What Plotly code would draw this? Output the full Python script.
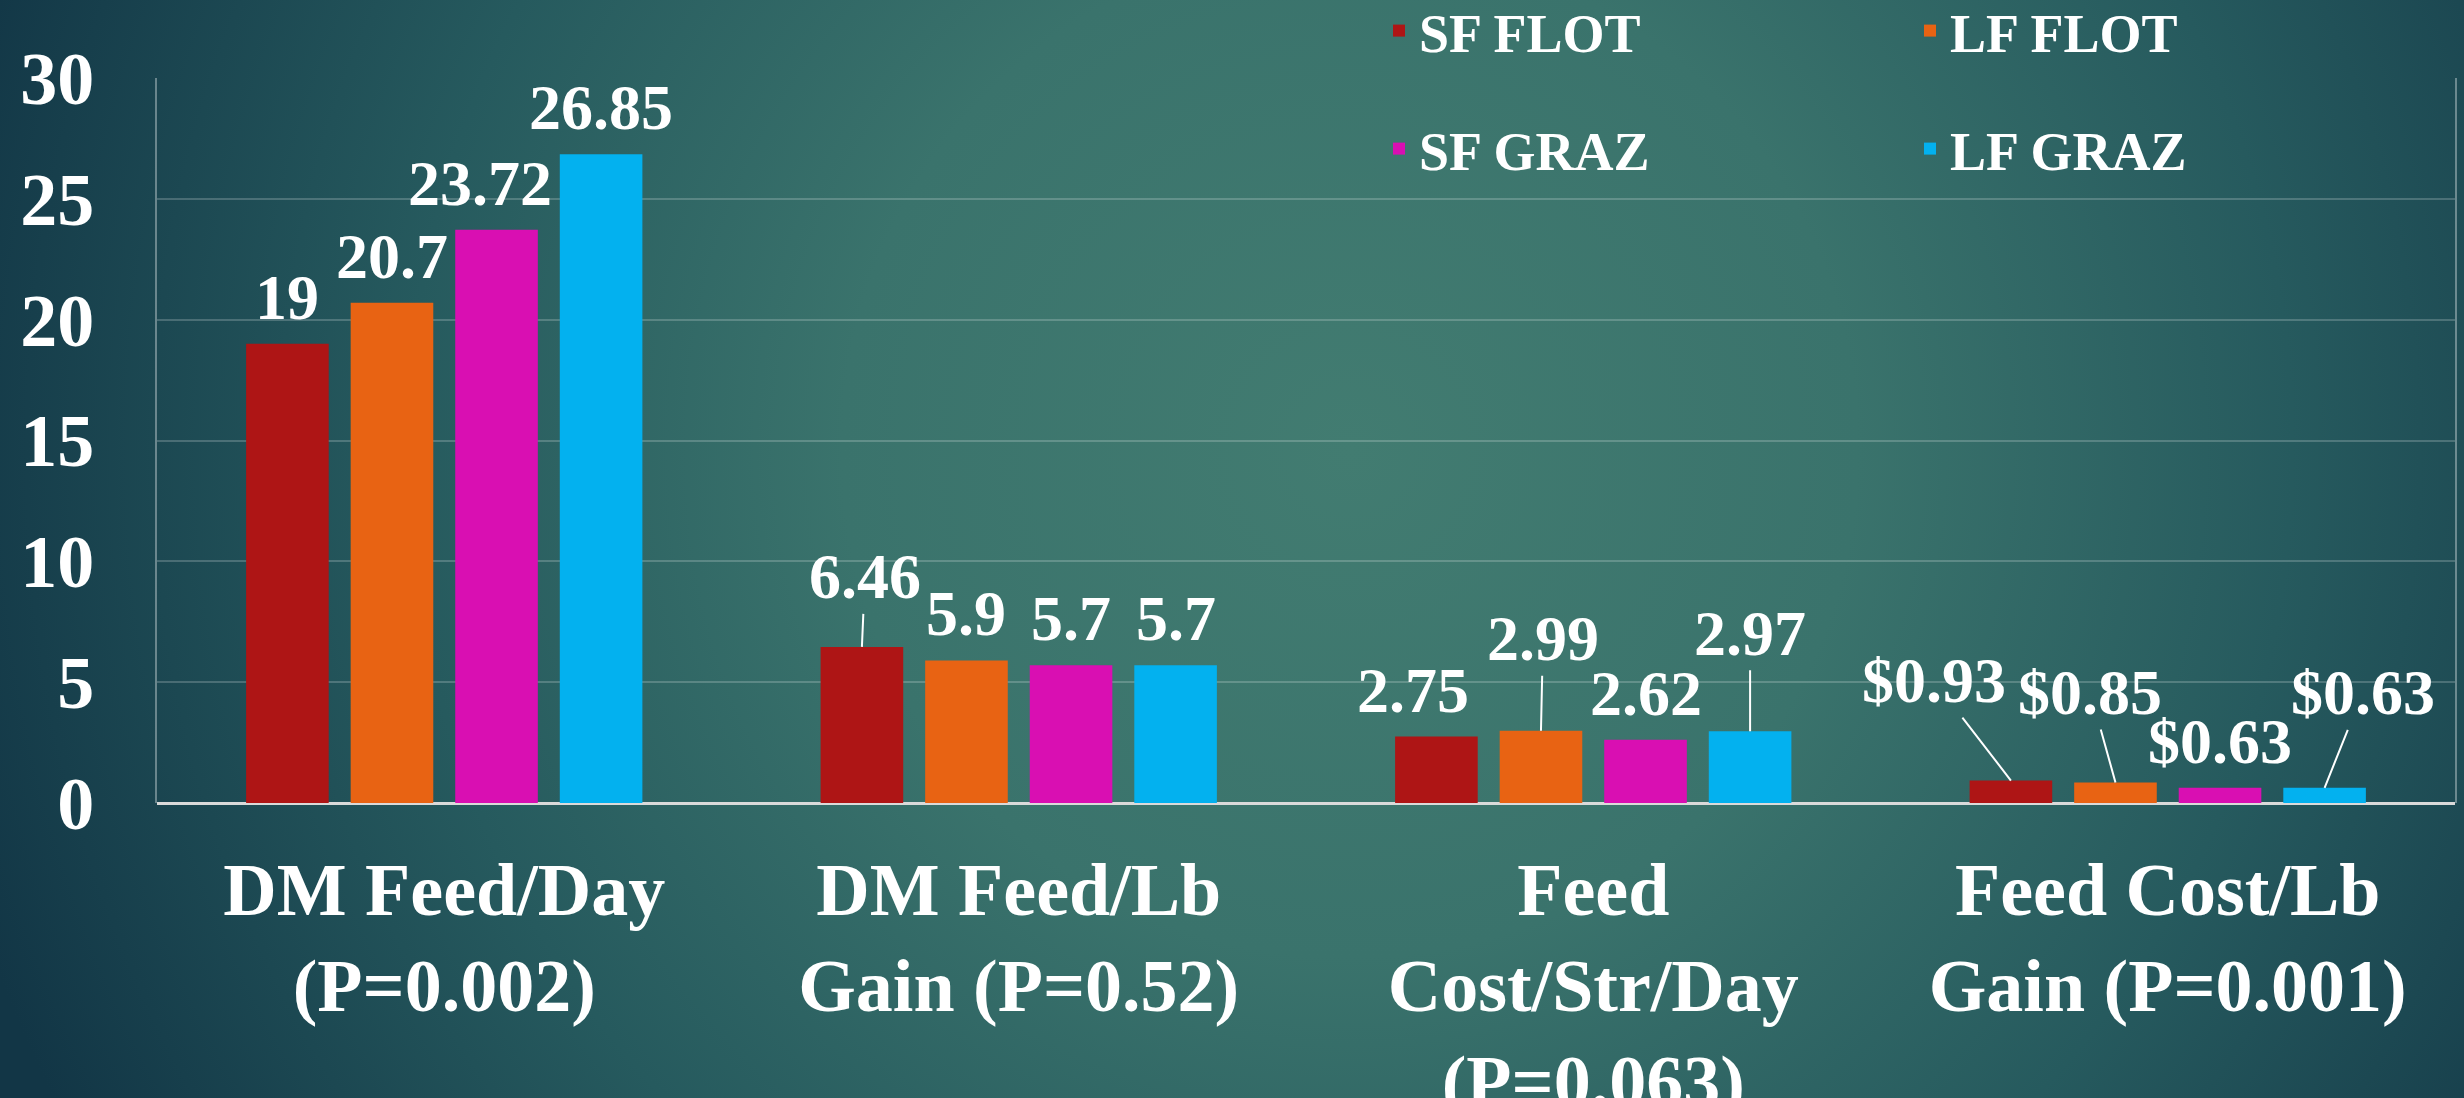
import base64
import plotly.graph_objects as go

# ---------------- data ----------------
categories = [
    "DM Feed/Day<br>(P=0.002)",
    "DM Feed/Lb<br>Gain (P=0.52)",
    "Feed<br>Cost/Str/Day<br>(P=0.063)",
    "Feed Cost/Lb<br>Gain (P=0.001)",
]
series_names = ["SF FLOT", "LF FLOT", "SF GRAZ", "LF GRAZ"]
sf_flot = [19, 6.46, 2.75, 0.93]
lf_flot = [20.7, 5.9, 2.99, 0.85]
sf_graz = [23.72, 5.7, 2.62, 0.63]
lf_graz = [26.85, 5.7, 2.97, 0.63]
series_values = [sf_flot, lf_flot, sf_graz, lf_graz]
y_ticks = [0, 5, 10, 15, 20, 25, 30]

# ---------------- styles ----------------
colors = ["#AE1515", "#E86313", "#D90FB2", "#03B1EF"]
FONT = "Liberation Serif"
W, H = 2464, 1098
BARGAP = 0.272
BARGROUPGAP = 0.21

# label placement tweaks: (series idx, category idx) -> dict
label_style = {
    (2, 0): dict(xshift=-17),
    (0, 1): dict(arrow=True, ax=3, ay=-70),
    (0, 2): dict(xshift=-23),
    (1, 2): dict(arrow=True, ax=2, ay=-92),
    (3, 2): dict(arrow=True, ax=0, ay=-98),
    (0, 3): dict(arrow=True, ax=-77, ay=-100),
    (1, 3): dict(arrow=True, ax=-25, ay=-90),
    (3, 3): dict(arrow=True, ax=38, ay=-95),
}

fig = go.Figure()
for i, (name, vals) in enumerate(zip(series_names, series_values)):
    fig.add_trace(go.Bar(
        name=name, x=categories, y=vals,
        marker=dict(color=colors[i], line=dict(width=0)),
        legend="legend" if i < 2 else "legend2",
        hoverinfo="skip",
    ))

# value labels
slot = (1 - BARGAP) / len(series_names)
annotations = []
for i, vals in enumerate(series_values):
    for j, v in enumerate(vals):
        txt = f"${v:.2f}" if j == 3 else f"{v:g}"
        xpos = j + (i - (len(series_names) - 1) / 2) * slot
        st = label_style.get((i, j), {})
        base = dict(x=xpos, y=v, xref="x", yref="y", text=txt,
                    font=dict(family=FONT, size=64, color="white", weight="bold"))
        if st.get("arrow"):
            base.update(showarrow=True, arrowhead=0, arrowwidth=2,
                        arrowcolor="white", ax=st["ax"], ay=st["ay"])
        else:
            base.update(showarrow=False, yanchor="bottom", yshift=9,
                        xshift=st.get("xshift", 0))
        annotations.append(base)

# background gradient (decorative)
svg = (
    f"<svg xmlns='http://www.w3.org/2000/svg' width='{W}' height='{H}' "
    f"viewBox='0 0 {W} {H}' preserveAspectRatio='none'>"
    "<defs><radialGradient id='g' gradientUnits='userSpaceOnUse' cx='1350' cy='450' r='1450'>"
    "<stop offset='0' stop-color='#427C71'/>"
    "<stop offset='0.35' stop-color='#3A736C'/>"
    "<stop offset='0.65' stop-color='#265A5E'/>"
    "<stop offset='1' stop-color='#123646'/>"
    "</radialGradient></defs>"
    f"<rect width='{W}' height='{H}' fill='url(#g)'/></svg>"
)
bg_src = "data:image/svg+xml;base64," + base64.b64encode(svg.encode()).decode()

legend_common = dict(
    orientation="h", entrywidth=486, entrywidthmode="pixels",
    font=dict(family=FONT, size=54, color="white", weight="bold"),
    bgcolor="rgba(0,0,0,0)", xanchor="left", yanchor="middle",
    itemclick=False, itemdoubleclick=False,
)

fig.update_layout(
    width=W, height=H,
    margin=dict(l=0, r=0, t=0, b=0, autoexpand=False),
    paper_bgcolor="#1F4F5A",
    plot_bgcolor="rgba(0,0,0,0)",
    barmode="group", bargap=BARGAP, bargroupgap=BARGROUPGAP,
    showlegend=True,
    legend=dict(x=1379 / W, y=1 - 31 / H, **legend_common),
    legend2=dict(x=1379 / W, y=1 - 149 / H, **legend_common),
    images=[dict(source=bg_src, xref="paper", yref="paper", x=0, y=1,
                 sizex=1, sizey=1, sizing="stretch", layer="below",
                 xanchor="left", yanchor="top")],
    annotations=annotations,
    xaxis=dict(
        domain=[157 / W, 2455 / W],
        showgrid=False, showline=False, zeroline=False,
        ticks="", ticklabelstandoff=37,
        tickfont=dict(family=FONT, size=74, color="white", weight="bold"),
        automargin=False,
    ),
    yaxis=dict(
        domain=[(H - 803) / H, (H - 78) / H],
        range=[0, 30], tickvals=y_ticks, ticktext=[str(t) for t in y_ticks],
        showgrid=True, gridcolor="rgba(255,255,255,0.2)", gridwidth=2,
        showline=True, linecolor="rgba(255,255,255,0.35)", linewidth=2, mirror=True,
        zeroline=True, zerolinecolor="#DADADA", zerolinewidth=3,
        ticks="", ticklabelstandoff=46,
        tickfont=dict(family=FONT, size=74, color="white", weight="bold"),
        automargin=False,
    ),
)

fig.write_html(
    "out.html",
    config={"displayModeBar": False},
    post_script="document.body.style.margin='0';document.body.style.overflow='hidden';",
)
